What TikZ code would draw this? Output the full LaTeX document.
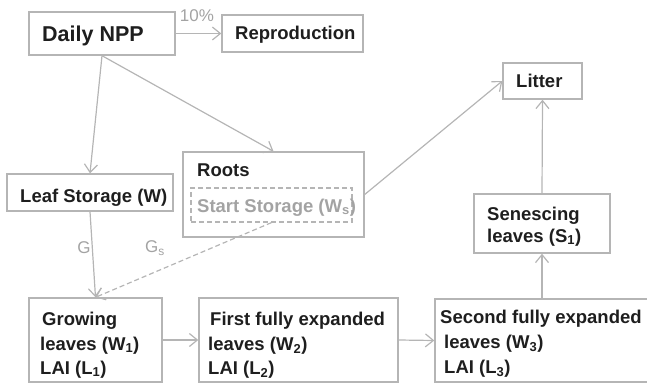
\documentclass[tikz,border=0pt]{standalone}
\usepackage{fontspec}
\setmainfont{Liberation Sans}
\usetikzlibrary{arrows.meta}
\definecolor{linegrey}{HTML}{B5B5B5}
\definecolor{txt}{HTML}{1E1E1E}
\definecolor{softtxt}{HTML}{A3A3A3}
\begin{document}
\begin{tikzpicture}[x=1pt,y=-1pt,
  box/.style={draw=linegrey,line width=1.4pt,inner sep=0pt},
  dbox/.style={draw=linegrey,line width=1.2pt,inner sep=0pt,dash pattern=on 5pt off 3pt},
  lbl/.style={anchor=base west,inner sep=0pt,text=txt,font=\fontsize{18.5}{22}\selectfont\bfseries},
  biglbl/.style={anchor=base west,inner sep=0pt,text=txt,font=\fontsize{21.5}{25}\selectfont\bfseries},
  greylbl/.style={anchor=base west,inner sep=0pt,text=softtxt,font=\fontsize{18.5}{22}\selectfont\bfseries},
  flowlbl/.style={inner sep=0pt,text=softtxt,font=\fontsize{17}{20}\selectfont},
  conn/.style={draw=linegrey,line width=1.2pt,-{Straight Barb[length=8pt,width=13pt]}},
  dconn/.style={conn,dash pattern=on 5pt off 3pt}]
\useasboundingbox (0,0) rectangle (647,385);

% boxes
\node[box,minimum width=146pt,minimum height=43pt] (npp) at (102,33.5) {};
\node[box,minimum width=141pt,minimum height=37pt] (repro) at (292.5,33.5) {};
\node[box,minimum width=79pt,minimum height=36pt] (litter) at (542.5,81) {};
\node[box,minimum width=181pt,minimum height=85pt] (roots) at (273.5,194.5) {};
\node[dbox,minimum width=161pt,minimum height=34pt] (start) at (271.5,205) {};
\node[box,minimum width=166pt,minimum height=37pt] (leafst) at (90,192.5) {};
\node[box,minimum width=136pt,minimum height=59pt] (senesc) at (542,223.5) {};
\node[box,minimum width=133pt,minimum height=84pt] (grow) at (95.5,340) {};
\node[box,minimum width=199pt,minimum height=84pt] (first) at (298.5,340) {};
\node[box,minimum width=225pt,minimum height=83pt] (second) at (547.5,340.5) {};

% texts
\node[biglbl] (tnpp) at (42,42) {Daily NPP};
\node[lbl] (trepro) at (235,40) {Reproduction};
\node[lbl] (tlitter) at (516,88) {Litter};
\node[lbl] (troots) at (197,176) {Roots};
\node[greylbl] (tstart) at (197,212) {Start Storage (W\textsubscript{s})};
\node[lbl] (tleafst) at (20,202) {Leaf Storage (W)};
\node[lbl] (tsen1) at (487,220) {Senescing};
\node[lbl] (tsen2) at (487,242) {leaves (S\textsubscript{1})};
\node[lbl] (tgrow1) at (42,325) {Growing};
\node[lbl] (tgrow2) at (40,350) {leaves (W\textsubscript{1})};
\node[lbl] (tgrow3) at (40,374) {LAI (L\textsubscript{1})};
\node[lbl] (tfirst1) at (210,325) {First fully expanded};
\node[lbl] (tfirst2) at (208,350) {leaves (W\textsubscript{2})};
\node[lbl] (tfirst3) at (208,374) {LAI (L\textsubscript{2})};
\node[lbl] (tsec1) at (440,323) {Second fully expanded};
\node[lbl] (tsec2) at (444,348) {leaves (W\textsubscript{3})};
\node[lbl] (tsec3) at (444,373) {LAI (L\textsubscript{3})};

% connectors
\draw[conn] (npp.east) -- (repro.west);
\node[flowlbl] (pct) at (197,16) {10\%};
\draw[conn] (npp.south) -- (leafst.north);
\draw[conn] (npp.south) -- (roots.north);
\draw[conn] (roots.east) -- (litter.west);
\draw[conn] (senesc.north) -- (litter.south);
\draw[conn] (second.north -| senesc.south) -- (senesc.south);
\draw[conn] (leafst.south) -- (grow.north);
\node[flowlbl] (g) at (84,248) {G};
\draw[dconn] (start.south) -- (grow.north);
\node[flowlbl] (gs) at (155,248) {G\textsubscript{s}};
\draw[conn] (grow.east) -- (first.west);
\draw[conn] (first.east) -- (second.west);
\end{tikzpicture}
\end{document}
